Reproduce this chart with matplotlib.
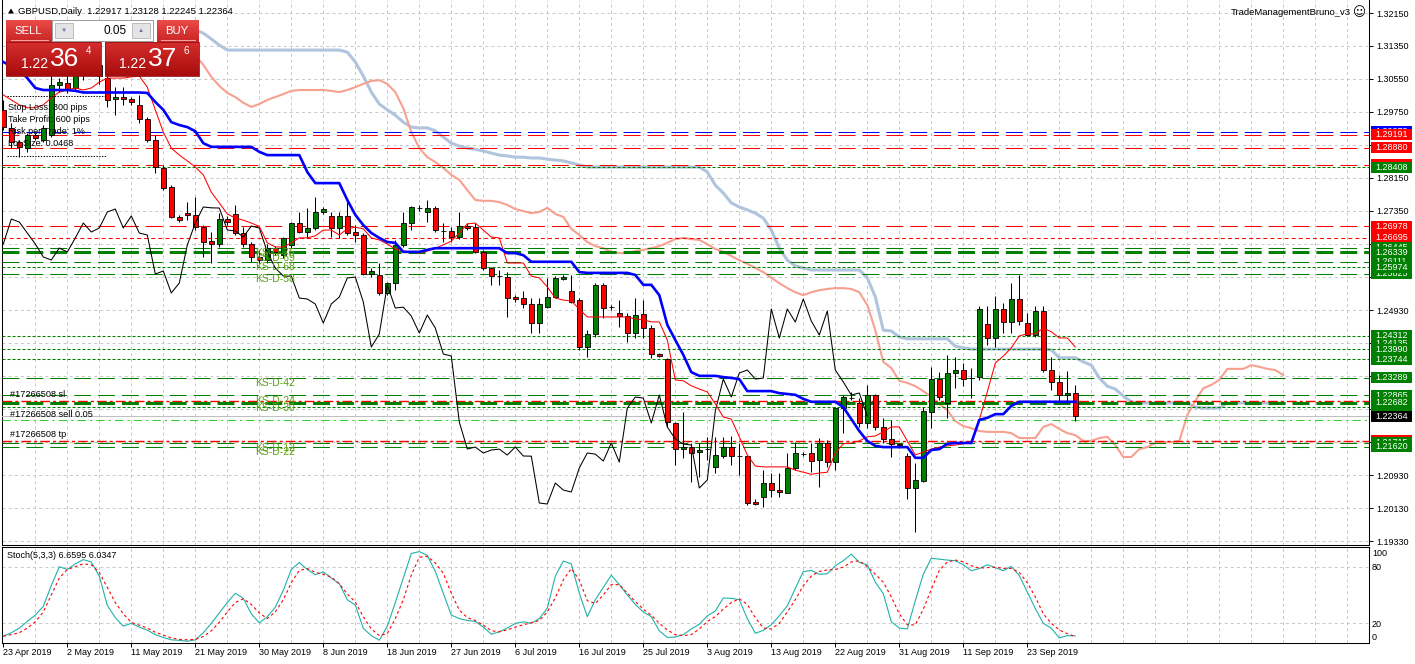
import numpy as np
import matplotlib
matplotlib.use("Agg")
import matplotlib.pyplot as plt
from matplotlib.patches import Rectangle, Polygon
from matplotlib.colors import to_rgb
import matplotlib.transforms as mtransforms

plt.rcParams['font.family'] = ['Liberation Sans', 'DejaVu Sans']
plt.rcParams['lines.scale_dashes'] = False
plt.rcParams['axes.linewidth'] = 0.75

# ------------------------------------------------------------------ data
title_text = "GBPUSD,Daily  1.22917 1.23128 1.22245 1.22364"
ea_name = "TradeManagementBruno_v3"
stoch_title = "Stoch(5,3,3) 6.6595 6.0347"

date_labels = ['23 Apr 2019', '2 May 2019', '11 May 2019', '21 May 2019', '30 May 2019',
               '8 Jun 2019', '18 Jun 2019', '27 Jun 2019', '6 Jul 2019', '16 Jul 2019',
               '25 Jul 2019', '3 Aug 2019', '13 Aug 2019', '22 Aug 2019', '31 Aug 2019',
               '11 Sep 2019', '23 Sep 2019']
date_label_bars = [0, 8, 16, 24, 32, 40, 48, 56, 64, 72, 80, 88, 96, 104, 112, 120, 128]

opens = [1.29795, 1.29358, 1.29018, 1.28872, 1.29188, 1.29066, 1.29188, 1.30402, 1.30450, 1.30329,
         1.30766, 1.30717, 1.30887, 1.30572, 1.30062, 1.30110, 1.30062, 1.29916, 1.29576, 1.29066,
         1.28387, 1.27925, 1.27197, 1.27294, 1.27245, 1.26954, 1.26614, 1.26541, 1.27148, 1.27270,
         1.26808, 1.26541, 1.26226, 1.26153, 1.26444, 1.26274, 1.26517, 1.27051, 1.26833, 1.26930,
         1.27318, 1.27221, 1.26930, 1.27221, 1.26833, 1.26760, 1.25813, 1.25789, 1.25352, 1.25594,
         1.26517, 1.27051, 1.27415, 1.27318, 1.27415, 1.26857, 1.26857, 1.26711, 1.26978, 1.26954,
         1.26347, 1.25959, 1.25764, 1.25740, 1.25254, 1.25230, 1.25085, 1.24623, 1.25012, 1.25254,
         1.25692, 1.25400, 1.25182, 1.24040, 1.24356, 1.25546, 1.25012, 1.24866, 1.24793, 1.24380,
         1.24842, 1.24502, 1.23870, 1.23749, 1.22195, 1.21564, 1.21612, 1.21491, 1.21564, 1.21127,
         1.21394, 1.21612, 1.21394, 1.21394, 1.20277, 1.20398, 1.20738, 1.20568, 1.20496, 1.21103,
         1.21442, 1.21467, 1.21297, 1.21710, 1.21248, 1.22559, 1.22802, 1.22681, 1.22195, 1.22875,
         1.22098, 1.21807, 1.21685, 1.21394, 1.20617, 1.20787, 1.22462, 1.23263, 1.22681, 1.23409,
         1.23482, 1.23288, 1.23312, 1.24599, 1.24259, 1.24963, 1.24647, 1.25206, 1.24623, 1.24332,
         1.24915, 1.23482, 1.23191, 1.22875, 1.22917]
highs = [1.30038, 1.29479, 1.29066, 1.29236, 1.29236, 1.29431, 1.30645, 1.30572, 1.30645, 1.30960,
         1.31009, 1.31009, 1.30960, 1.30645, 1.30353, 1.30353, 1.30110, 1.30159, 1.29625, 1.29188,
         1.28460, 1.27974, 1.27245, 1.27561, 1.27682, 1.27003, 1.26833, 1.27294, 1.27221, 1.27488,
         1.26954, 1.26590, 1.26396, 1.26541, 1.26493, 1.26711, 1.27075, 1.27318, 1.27415, 1.27682,
         1.27440, 1.27318, 1.27318, 1.27610, 1.27003, 1.26808, 1.25959, 1.26080, 1.25619, 1.26638,
         1.27318, 1.27464, 1.27488, 1.27610, 1.27464, 1.27051, 1.26954, 1.27318, 1.27051, 1.27051,
         1.26396, 1.25983, 1.25910, 1.25861, 1.25303, 1.25400, 1.25230, 1.25230, 1.25716, 1.25764,
         1.25789, 1.25789, 1.25230, 1.24453, 1.25594, 1.25594, 1.25060, 1.25182, 1.24866, 1.25230,
         1.25182, 1.24575, 1.23895, 1.23773, 1.22219, 1.22462, 1.21710, 1.21710, 1.21855, 1.21855,
         1.21855, 1.21880, 1.21710, 1.21418, 1.20350, 1.21054, 1.20981, 1.20981, 1.21467, 1.21734,
         1.21491, 1.21710, 1.21831, 1.21782, 1.22584, 1.22875, 1.22948, 1.22802, 1.23118, 1.22899,
         1.22317, 1.22268, 1.21710, 1.21467, 1.21224, 1.22584, 1.23555, 1.23433, 1.23846, 1.23798,
         1.23652, 1.23531, 1.25036, 1.25036, 1.25279, 1.25109, 1.25594, 1.25789, 1.24866, 1.25036,
         1.25036, 1.23798, 1.23361, 1.23458, 1.23128]
lows = [1.29309, 1.28872, 1.28654, 1.28775, 1.29066, 1.29018, 1.29139, 1.30232, 1.30208, 1.30280,
        1.30523, 1.30620, 1.30426, 1.29868, 1.29673, 1.29916, 1.29916, 1.29479, 1.29018, 1.28265,
        1.27852, 1.27173, 1.27075, 1.27124, 1.26881, 1.26226, 1.26080, 1.26468, 1.27003, 1.26760,
        1.26468, 1.26104, 1.26080, 1.26104, 1.26274, 1.26201, 1.26444, 1.26808, 1.26687, 1.26881,
        1.27270, 1.26711, 1.26687, 1.26760, 1.26590, 1.25789, 1.25740, 1.25303, 1.25303, 1.25425,
        1.26468, 1.26881, 1.27343, 1.27075, 1.26833, 1.26590, 1.26590, 1.26663, 1.26881, 1.26323,
        1.25910, 1.25546, 1.25546, 1.24769, 1.25133, 1.24987, 1.24380, 1.24380, 1.24987, 1.25230,
        1.25667, 1.25109, 1.23968, 1.23798, 1.24283, 1.24745, 1.24939, 1.24526, 1.24162, 1.24259,
        1.24259, 1.23773, 1.23798, 1.22098, 1.21175, 1.21345, 1.20763, 1.20884, 1.21297, 1.20981,
        1.21345, 1.21175, 1.20933, 1.20204, 1.20204, 1.20156, 1.20398, 1.20398, 1.20496, 1.21054,
        1.21394, 1.21005, 1.20641, 1.21127, 1.21054, 1.21952, 1.22754, 1.22098, 1.22074, 1.22025,
        1.21710, 1.21370, 1.21588, 1.20350, 1.19546, 1.20763, 1.22074, 1.22754, 1.22317, 1.23045,
        1.23093, 1.22802, 1.23239, 1.24090, 1.24040, 1.24380, 1.24380, 1.24575, 1.24308, 1.24283,
        1.23433, 1.22996, 1.22705, 1.22681, 1.22245]
closes = [1.29382, 1.29018, 1.28896, 1.29188, 1.29115, 1.29358, 1.30402, 1.30475, 1.30305, 1.30766,
          1.30717, 1.30887, 1.30620, 1.30038, 1.30110, 1.30062, 1.29989, 1.29576, 1.29066, 1.28411,
          1.27901, 1.27197, 1.27124, 1.27245, 1.26954, 1.26590, 1.26541, 1.27148, 1.27075, 1.26808,
          1.26541, 1.26226, 1.26153, 1.26444, 1.26347, 1.26687, 1.27051, 1.26833, 1.26930, 1.27318,
          1.27391, 1.26930, 1.27221, 1.26808, 1.26760, 1.25813, 1.25886, 1.25352, 1.25594, 1.26517,
          1.27051, 1.27440, 1.27420, 1.27415, 1.26881, 1.26860, 1.26711, 1.26978, 1.26930, 1.26347,
          1.25959, 1.25764, 1.25760, 1.25230, 1.25206, 1.25085, 1.24623, 1.25085, 1.25254, 1.25716,
          1.25740, 1.25133, 1.24040, 1.24356, 1.25546, 1.24987, 1.25008, 1.24793, 1.24380, 1.24817,
          1.24502, 1.23870, 1.23822, 1.22219, 1.21564, 1.21612, 1.21467, 1.21540, 1.21560, 1.21418,
          1.21612, 1.21394, 1.21390, 1.20253, 1.20228, 1.20738, 1.20568, 1.20520, 1.21103, 1.21467,
          1.21440, 1.21272, 1.21710, 1.21248, 1.22559, 1.22826, 1.22800, 1.22195, 1.22875, 1.22098,
          1.21807, 1.21685, 1.21661, 1.20617, 1.20812, 1.22487, 1.23263, 1.22826, 1.23409, 1.23482,
          1.23263, 1.23285, 1.24963, 1.24259, 1.24963, 1.24647, 1.25206, 1.24672, 1.24332, 1.24915,
          1.23482, 1.23191, 1.22875, 1.22924, 1.22364]

tenkan = [1.3016, 1.3004, 1.2992, 1.2985, 1.2985, 1.2992, 1.3009, 1.3023, 1.3028, 1.3033,
          1.3028, 1.3033, 1.3047, 1.3057, 1.3057, 1.3057, 1.3060, 1.3062, 1.3035, 1.2980,
          1.2926, 1.2887, 1.2870, 1.2856, 1.2841, 1.2822, 1.2780, 1.2754, 1.2727, 1.2717,
          1.2712, 1.2705, 1.2697, 1.2657, 1.2647, 1.2647, 1.2657, 1.2669, 1.2669, 1.2674,
          1.2688, 1.2688, 1.2676, 1.2691, 1.2695, 1.2691, 1.2669, 1.2664, 1.2654, 1.2642,
          1.2637, 1.2635, 1.2632, 1.2637, 1.2644, 1.2652, 1.2661, 1.2681, 1.2703, 1.2705,
          1.2688, 1.2671, 1.2669, 1.2608, 1.2608, 1.2608, 1.2576, 1.2572, 1.2550, 1.2523,
          1.2518, 1.2516, 1.2496, 1.2477, 1.2477, 1.2477, 1.2477, 1.2477, 1.2477, 1.2472,
          1.2470, 1.2465, 1.2465, 1.2421, 1.2324, 1.2322, 1.2310, 1.2302, 1.2295, 1.2266,
          1.2234, 1.2229, 1.2186, 1.2142, 1.2115, 1.2113, 1.2113, 1.2113, 1.2113, 1.2105,
          1.2100, 1.2095, 1.2098, 1.2100, 1.2147, 1.2169, 1.2171, 1.2176, 1.2186, 1.2188,
          1.2198, 1.2210, 1.2210, 1.2176, 1.2142, 1.2149, 1.2156, 1.2161, 1.2164, 1.2166,
          1.2169, 1.2173, 1.2227, 1.2295, 1.2365, 1.2382, 1.2402, 1.2431, 1.2436, 1.2436,
          1.2450, 1.2441, 1.2426, 1.2426, 1.2404]
kijun = [1.3096, 1.3086, 1.3077, 1.3057, 1.3033, 1.3028, 1.3028, 1.3028, 1.3028, 1.3026,
         1.3022, 1.3022, 1.3022, 1.3022, 1.3022, 1.3022, 1.3022, 1.3022, 1.3021, 1.2999,
         1.2980, 1.2950, 1.2943, 1.2938, 1.2928, 1.2899, 1.2890, 1.2890, 1.2890, 1.2890,
         1.2890, 1.2890, 1.2878, 1.2870, 1.2870, 1.2870, 1.2870, 1.2870, 1.2829, 1.2802,
         1.2802, 1.2802, 1.2802, 1.2761, 1.2725, 1.2700, 1.2681, 1.2669, 1.2659, 1.2657,
         1.2635, 1.2635, 1.2635, 1.2640, 1.2644, 1.2644, 1.2644, 1.2644, 1.2644, 1.2644,
         1.2644, 1.2644, 1.2644, 1.2632, 1.2632, 1.2627, 1.2611, 1.2611, 1.2611, 1.2611,
         1.2611, 1.2611, 1.2586, 1.2584, 1.2584, 1.2584, 1.2584, 1.2584, 1.2584, 1.2579,
         1.2555, 1.2555, 1.2530, 1.2458, 1.2421, 1.2385, 1.2343, 1.2334, 1.2334, 1.2334,
         1.2331, 1.2329, 1.2326, 1.2297, 1.2297, 1.2297, 1.2297, 1.2292, 1.2290, 1.2288,
         1.2278, 1.2271, 1.2271, 1.2271, 1.2271, 1.2258, 1.2229, 1.2200, 1.2176, 1.2164,
         1.2161, 1.2161, 1.2161, 1.2161, 1.2135, 1.2135, 1.2154, 1.2156, 1.2169, 1.2171,
         1.2171, 1.2171, 1.2227, 1.2232, 1.2241, 1.2241, 1.2261, 1.2271, 1.2271, 1.2271,
         1.2271, 1.2271, 1.2271, 1.2271, 1.2271]

senkou_first_bar = 24
senkou_a = [1.3113, 1.3089, 1.3060, 1.3038, 1.3021, 1.3011, 1.2997, 1.2987, 1.2994, 1.3004,
            1.3011, 1.3018, 1.3026, 1.3028, 1.3028, 1.3028, 1.3028, 1.3026, 1.3023, 1.3028,
            1.3035, 1.3043, 1.3050, 1.3052, 1.3043, 1.3023, 1.2984, 1.2926, 1.2887, 1.2865,
            1.2853, 1.2839, 1.2822, 1.2810, 1.2785, 1.2761, 1.2759, 1.2759, 1.2756, 1.2749,
            1.2739, 1.2734, 1.2729, 1.2732, 1.2742, 1.2727, 1.2720, 1.2691, 1.2676, 1.2659,
            1.2649, 1.2644, 1.2635, 1.2632, 1.2632, 1.2637, 1.2640, 1.2644, 1.2649, 1.2657,
            1.2666, 1.2669, 1.2666, 1.2664, 1.2654, 1.2642, 1.2635, 1.2625, 1.2615, 1.2606,
            1.2596, 1.2586, 1.2572, 1.2559, 1.2547, 1.2537, 1.2530, 1.2537, 1.2542, 1.2545,
            1.2547, 1.2547, 1.2545, 1.2537, 1.2506, 1.2445, 1.2368, 1.2353, 1.2322, 1.2317,
            1.2309, 1.2297, 1.2283, 1.2266, 1.2251, 1.2224, 1.2212, 1.2207, 1.2200, 1.2198,
            1.2198, 1.2198, 1.2195, 1.2183, 1.2183, 1.2183, 1.2210, 1.2217, 1.2205, 1.2195,
            1.2190, 1.2176, 1.2176, 1.2183, 1.2186, 1.2166, 1.2137, 1.2137, 1.2156, 1.2161,
            1.2171, 1.2173, 1.2173, 1.2176, 1.2239, 1.2273, 1.2304, 1.2312, 1.2324, 1.2351,
            1.2351, 1.2351, 1.2360, 1.2356, 1.2351, 1.2348, 1.2336]
senkou_b = [1.3174, 1.3166, 1.3152, 1.3137, 1.3125, 1.3125, 1.3125, 1.3125, 1.3125, 1.3125,
            1.3125, 1.3125, 1.3125, 1.3125, 1.3125, 1.3125, 1.3125, 1.3125, 1.3125, 1.3120,
            1.3096, 1.3062, 1.3023, 1.2994, 1.2980, 1.2967, 1.2950, 1.2938, 1.2936, 1.2936,
            1.2929, 1.2914, 1.2899, 1.2892, 1.2887, 1.2884, 1.2880, 1.2875, 1.2870, 1.2868,
            1.2865, 1.2865, 1.2863, 1.2863, 1.2860, 1.2858, 1.2856, 1.2851, 1.2846, 1.2841,
            1.2841, 1.2841, 1.2841, 1.2841, 1.2841, 1.2841, 1.2841, 1.2841, 1.2841, 1.2841,
            1.2841, 1.2841, 1.2841, 1.2841, 1.2829, 1.2797, 1.2778, 1.2754, 1.2744, 1.2737,
            1.2729, 1.2717, 1.2688, 1.2644, 1.2615, 1.2601, 1.2596, 1.2591, 1.2591, 1.2591,
            1.2591, 1.2591, 1.2591, 1.2591, 1.2572, 1.2526, 1.2445, 1.2443, 1.2428, 1.2424,
            1.2424, 1.2424, 1.2424, 1.2424, 1.2424, 1.2406, 1.2402, 1.2399, 1.2399, 1.2399,
            1.2399, 1.2399, 1.2399, 1.2399, 1.2399, 1.2399, 1.2399, 1.2397, 1.2378, 1.2378,
            1.2378, 1.2368, 1.2360, 1.2329, 1.2309, 1.2302, 1.2285, 1.2271, 1.2268, 1.2268,
            1.2268, 1.2268, 1.2268, 1.2268, 1.2268, 1.2258, 1.2256, 1.2256, 1.2256, 1.2268,
            1.2268, 1.2268, 1.2268, 1.2268, 1.2268, 1.2268, 1.2268]
chikou_shift = 26

stoch_k = [6.4, 10, 15, 22, 28.7, 38, 60, 80, 77, 83,
           87.5, 85, 70, 39, 26, 17, 20, 16, 12.8, 8,
           5, 2.5, 2, 1, 2.5, 10, 20, 31, 42, 51.8,
           46.5, 30, 20.5, 27, 37, 55, 77, 84.4, 77, 71.5,
           74.5, 68, 62, 45, 39.4, 14.6, 7, 2.1, 17, 42,
           68, 94, 96, 92, 75, 52, 28.7, 25, 23, 22,
           16, 8.5, 11, 15, 19.9, 21.5, 20, 25, 36, 70,
           86, 83, 52, 27, 45, 58, 71, 61, 50, 40,
           32, 27, 12, 5, 5.5, 8, 14, 19, 28, 33,
           46.8, 46.5, 45, 25, 9.5, 12.5, 18.5, 28, 38.5, 57,
           74.8, 76, 72, 72.5, 81, 86.3, 93.3, 84.5, 82, 63.6,
           51.4, 21.7, 15, 14, 44, 72, 89, 88, 87, 86.3,
           82, 75.8, 78, 82, 79, 75.8, 80.3, 70.6, 53.1, 35.7,
           20, 14.8, 4.5, 7, 6.6595]
stoch_d = [6.4, 8, 10, 15, 21.6, 32, 50, 68, 77, 80,
           83, 82, 74, 58, 42, 30, 21, 18, 15, 10.5,
           7.5, 4.5, 3, 2.5, 3, 6, 12, 21, 32, 42,
           46, 40, 31, 25, 32, 45, 63, 76, 78, 74,
           72, 69, 62, 51, 42.6, 27, 14, 7, 9, 25,
           45, 71, 90, 91, 84, 73, 52, 34, 26, 23,
           18, 12.2, 11, 13, 16, 18.5, 20.6, 23, 32, 47,
           66, 78, 66, 44, 41, 50, 61, 61, 52, 43,
           35, 28.5, 20, 13, 8, 7, 8, 14, 22, 27,
           35, 42, 46, 40, 26, 15, 14, 20, 32, 45,
           60, 70, 75, 76.5, 77, 79.5, 85, 86.3, 80, 72,
           63.6, 48, 30, 18.5, 18.2, 35, 56, 76, 85, 87,
           85.2, 81, 78.5, 79, 79.5, 78.2, 78.2, 74, 63, 48,
           30, 20, 13, 9, 6.0347]

price_ticks = [1.32150, 1.31350, 1.30550, 1.29750, 1.28950, 1.28150, 1.27350, 1.26550, 1.25750,
               1.24930, 1.24130, 1.23330, 1.22530, 1.21730, 1.20930, 1.20130, 1.19330]

blue_dash_levels = [1.29273]
red_dash_levels = [1.29191, 1.28880, 1.28460, 1.26978]
red_fine_dash_levels = [1.26695]
red_dashdot_levels = [1.22730, 1.21759]
green_dash_levels = [1.26445, 1.26111, 1.25825, 1.23289, 1.22865, 1.21715, 1.21620]
green_thick_levels = [1.26339, 1.22682]
green_dot_levels = [1.28408, 1.25974, 1.24312, 1.23990, 1.23744, 1.22577]
lime_dashdot_levels = [1.22268]
bid_price = 1.22364

scale_label_prices = [1.29273, 1.29191, 1.28880, 1.28460, 1.28408, 1.26978, 1.26695,
                      1.26445, 1.25825, 1.26111, 1.26339, 1.25974,
                      1.24312, 1.24135, 1.23990, 1.23744, 1.23289,
                      1.22730, 1.22865, 1.22577, 1.22682, 1.22364,
                      1.21759, 1.21715, 1.21620]
scale_label_kinds = ['blue', 'red', 'red', 'red', 'green', 'red', 'red',
                     'green', 'green', 'green', 'green', 'green',
                     'green', 'green', 'green', 'green', 'green',
                     'red', 'green', 'green', 'green', 'bid',
                     'red', 'green', 'green']

ks_labels = ['KS-D-75', 'KS-D-69', 'KS-D-68', 'KS-D-58', 'KS-D-42',
             'KS-D-24', 'KS-D-30', 'KS-D-12', 'KS-D-22']
ks_prices = [1.26445, 1.26339, 1.26111, 1.25825, 1.23289,
             1.22865, 1.22682, 1.21715, 1.21620]
ks_label_bar = 31.45

order_labels = ['#17266508 sl', '#17266508 sell 0.05', '#17266508 tp']
order_prices = [1.22730, 1.22268, 1.21759]
order_label_bar = 0.85

info_lines = ['Stop Loss: 300 pips', 'Take Profit: 600 pips', 'Risk per Trade: 1%', 'Lot Size: 0.0468']
lot_text = "0.05"
sell_quote = ("1.22", "36", "4")
buy_quote = ("1.22", "37", "6")

# ------------------------------------------------------------------ layout
FW, FH = 1415.0, 664.0
fig = plt.figure(figsize=(FW / 100, FH / 100), dpi=100)
fig.patch.set_facecolor('white')

LEFT_PX, RIGHT_PX = 2, 1369
MAIN_TOP, MAIN_BOT = 0, 545
STO_TOP, STO_BOT = 547, 643
BAR0_PX, BAR_PX = 3.3, 8.0

def fx(p):
    return p / FW

def fbot(p):
    return 1 - p / FH

xlim = ((LEFT_PX - BAR0_PX) / BAR_PX, (RIGHT_PX - BAR0_PX) / BAR_PX)
main_ylim = (1.19233, 1.32466)
sto_ylim = (-0.85, 100.85)

ax = fig.add_axes([fx(LEFT_PX), fbot(MAIN_BOT), fx(RIGHT_PX - LEFT_PX), (MAIN_BOT - MAIN_TOP) / FH])
ax2 = fig.add_axes([fx(LEFT_PX), fbot(STO_BOT), fx(RIGHT_PX - LEFT_PX), (STO_BOT - STO_TOP) / FH])
axl = fig.add_axes([fx(RIGHT_PX), fbot(MAIN_BOT), fx(FW - RIGHT_PX), (MAIN_BOT - MAIN_TOP) / FH])
axo = fig.add_axes([0, 0, 1, 1])

GRID_C = '#c8c8c8'
GRID_LS = (0, (2.2, 2.2))
FS = 6.5
ppx = (main_ylim[1] - main_ylim[0]) / (MAIN_BOT - MAIN_TOP)

# ------------------------------------------------------------------ main panel
ax.set_xlim(*xlim)
ax.set_ylim(*main_ylim)
for k in range(4, int(xlim[1]) + 1, 4):
    ax.axvline(k, color=GRID_C, lw=0.7, ls=GRID_LS, zorder=0.5)
    ax2.axvline(k, color=GRID_C, lw=0.7, ls=GRID_LS, zorder=0.5)
for t in price_ticks:
    ax.axhline(t, color=GRID_C, lw=0.7, ls=GRID_LS, zorder=0.5)

LONG = (0, (12.2, 5.0))
DOT = (0, (2.2, 1.4))
FINE = (0, (2.9, 2.2))
DASHDOT = (0, (7.0, 2.2, 2.2, 2.2))
for p in blue_dash_levels:
    ax.axhline(p, color='#0000ff', lw=0.75, ls=LONG, zorder=3)
for p in red_dash_levels:
    ax.axhline(p, color='#ff0000', lw=0.75, ls=LONG, zorder=3)
for p in red_fine_dash_levels:
    ax.axhline(p, color='#ff0000', lw=0.75, ls=FINE, zorder=3)
for p in red_dashdot_levels:
    ax.axhline(p, color='#ff0000', lw=1.0, ls=DASHDOT, zorder=3)
for p in green_dash_levels:
    ax.axhline(p, color='#008000', lw=0.75, ls=LONG, zorder=3)
for p in green_thick_levels:
    ax.axhline(p, color='#008000', lw=2.2, ls=LONG, zorder=3)
for p in green_dot_levels:
    ax.axhline(p, color='#008000', lw=0.75, ls=DOT, zorder=3)
for p in lime_dashdot_levels:
    ax.axhline(p, color='#33cc33', lw=0.75, ls=(0, (6.0, 3.0, 1.5, 3.0)), zorder=3)
ax.axhline(bid_price, color='#c0c0c0', lw=0.75, zorder=3)

# Ichimoku spans (shifted forward)
sx = np.arange(senkou_first_bar, senkou_first_bar + len(senkou_b))
ax.plot(sx, senkou_b, color='#b0c4de', lw=2.2, zorder=2, solid_joinstyle='round')
sa_x = np.arange(senkou_first_bar, senkou_first_bar + len(senkou_a))
ax.plot(sa_x, senkou_a, color='#f8a090', lw=1.5, zorder=2.2, solid_joinstyle='round')

# candles
o = np.array(opens); h = np.array(highs); l = np.array(lows); c = np.array(closes)
idx = np.arange(len(o))
bull = c >= o
ax.vlines(idx, l, h, color='black', lw=0.75, zorder=4)
bottoms = np.minimum(o, c)
heights = np.maximum(np.abs(c - o), ppx * 0.3)
ax.bar(idx, heights, bottom=bottoms, width=0.62,
       color=np.where(bull, '#008000', '#ff0000'), edgecolor='black', linewidth=0.6, zorder=4.5)

# chikou (close shifted back), tenkan, kijun
cx = np.arange(len(c) - chikou_shift)
ax.plot(cx, c[chikou_shift:], color='black', lw=0.75, zorder=5)
ax.plot(idx, tenkan, color='#ff0000', lw=0.75, zorder=5.2)
ax.plot(idx, kijun, color='#0000ff', lw=1.9, zorder=5.4, solid_joinstyle='round')

# object texts
for t, p in zip(ks_labels, ks_prices):
    ax.text(ks_label_bar, p - ppx * 0.5, t, color='#5aa012', fontsize=7.5, va='top', ha='left', zorder=6)
for t, p in zip(order_labels, order_prices):
    ax.text(order_label_bar, p + ppx * 1.5, t, color='black', fontsize=6.6, va='bottom', ha='left', zorder=6)

# price scale: tick labels that sit under an object label box are not shown
hh = 5.5 * ppx
tick_text = []
for t in price_ticks:
    hidden = any(abs(t - q) < hh + 4 * ppx for q in scale_label_prices)
    tick_text.append('' if hidden else f"{t:.5f}")
ax.yaxis.tick_right()
ax.set_yticks(price_ticks)
ax.set_yticklabels(tick_text)
ax.tick_params(axis='y', direction='out', length=2.6, width=0.7, pad=2.5, labelsize=FS, colors='black')
ax.set_xticks([])
ax.spines['top'].set_visible(False)
for s in ('left', 'right', 'bottom'):
    ax.spines[s].set_color('black')

# ------------------------------------------------------------------ price-scale labels
axl.set_xlim(0, FW - RIGHT_PX)
axl.set_ylim(*main_ylim)
axl.axis('off')
box_colors = {'blue': '#0000ff', 'red': '#ff0000', 'green': '#008000', 'bid': '#000000'}
for i, (p, kind) in enumerate(zip(scale_label_prices, scale_label_kinds)):
    z = 3 + 2 * i
    axl.add_patch(Rectangle((2, p - hh), 41, 2 * hh, facecolor=box_colors[kind], edgecolor='none', zorder=z))
    ys = np.linspace(p - hh, p + hh, 23)
    covered = np.zeros_like(ys, dtype=bool)
    for q in scale_label_prices[i + 1:]:
        covered |= np.abs(ys - q) <= hh
    vis = ys[~covered]
    if len(vis) * (2 * hh / 22) / ppx < 3.5:
        continue
    txt = axl.text(6.5, p, f"{p:.5f}", color='white', fontsize=FS, va='center', ha='left', zorder=z + 1)
    clip = Rectangle((2, vis.min() - ppx * 0.3), 41, vis.max() - vis.min() + ppx * 0.6,
                     transform=axl.transData, facecolor='none', edgecolor='none')
    txt.set_clip_path(clip)

# ------------------------------------------------------------------ stochastic panel
ax2.set_xlim(*xlim)
ax2.set_ylim(*sto_ylim)
for v in (20, 80):
    ax2.axhline(v, color=GRID_C, lw=0.7, ls=GRID_LS, zorder=0.5)
ax2.plot(idx, stoch_k, color='#20b2aa', lw=0.8, zorder=3)
ax2.plot(idx, stoch_d, color='#ff0000', lw=0.8, ls=(0, (2.0, 2.0)), zorder=3.2)
ax2.yaxis.tick_right()
ax2.set_yticks([20, 80])
ax2.set_yticklabels(['20', '80'])
ax2.tick_params(axis='y', length=0, pad=2.2, labelsize=FS)
blend2 = mtransforms.blended_transform_factory(ax2.transAxes, ax2.transData)
ax2.text(1 + 3.5 / (RIGHT_PX - LEFT_PX), 94.2, '100', transform=blend2, fontsize=FS, va='center', ha='left')
ax2.text(1 + 3.0 / (RIGHT_PX - LEFT_PX), 5.5, '0', transform=blend2, fontsize=FS, va='center', ha='left')
ax2.set_xticks(date_label_bars)
ax2.set_xticklabels(date_labels, ha='left')
ax2.tick_params(axis='x', direction='out', length=2.6, width=0.7, pad=1.2, labelsize=FS)
for s in ax2.spines.values():
    s.set_color('black')

# ------------------------------------------------------------------ overlay (pixel coordinates)
axo.set_xlim(0, FW)
axo.set_ylim(FH, 0)
axo.axis('off')
axo.patch.set_alpha(0)

def grad_rect(x, y, w, hgt, c1, c2, n=16, z=10):
    a = np.array(to_rgb(c1)); b = np.array(to_rgb(c2))
    for i in range(n):
        t = i / (n - 1)
        axo.add_patch(Rectangle((x, y + hgt * i / n), w, hgt / n + 0.4,
                                facecolor=a * (1 - t) + b * t, edgecolor='none', zorder=z))

# title
axo.add_patch(Polygon([(8, 13.5), (14, 13.5), (11, 8.5)], closed=True, facecolor='black', edgecolor='none', zorder=12))
axo.text(18, 11, title_text, fontsize=6.8, va='center', ha='left', color='black', zorder=12)
axo.text(1351, 12.5, ea_name, fontsize=6.8, va='center', ha='right', color='black', zorder=12)
axo.text(1359, 12.5, '\u263a', fontsize=9, va='center', ha='center', color='black', zorder=12,
         family=['DejaVu Sans'])

# sell / buy panel
grad_rect(6, 20, 46, 22, '#ea4a48', '#c82424')
grad_rect(157, 20, 42, 22, '#ea4a48', '#c82424')
axo.plot([11, 48], [39.5, 39.5], color='#f3a0a0', lw=0.8, zorder=11)
axo.plot([161, 195], [39.5, 39.5], color='#f3a0a0', lw=0.8, zorder=11)
axo.text(28.5, 30.5, 'SELL', color='white', fontsize=8.2, va='center', ha='center', zorder=12)
axo.text(176.5, 30.5, 'BUY', color='white', fontsize=8.2, va='center', ha='center', zorder=12)
axo.add_patch(Rectangle((52, 20), 101, 21, facecolor='white', edgecolor='#9a9a9a', lw=0.7, zorder=10))
for bx in (55, 132):
    axo.add_patch(Rectangle((bx, 23), 18, 15, facecolor='#e4e4e4', edgecolor='#b4b4b4', lw=0.6, zorder=11))
axo.text(64, 30.5, '\u25bc', fontsize=4.5, color='#6a7aa0', va='center', ha='center', zorder=12)
axo.text(141, 30.5, '\u25b2', fontsize=4.5, color='#6a7aa0', va='center', ha='center', zorder=12)
axo.text(127, 30.5, lot_text, fontsize=8.5, color='black', va='center', ha='right', zorder=12)

grad_rect(6, 42, 95, 34, '#d42c2c', '#a80c0c')
grad_rect(105, 42, 94, 34, '#d42c2c', '#a80c0c')
axo.add_patch(Rectangle((6, 42), 95, 34, facecolor='none', edgecolor='#9a1010', lw=0.6, zorder=11))
axo.add_patch(Rectangle((105, 42), 94, 34, facecolor='none', edgecolor='#9a1010', lw=0.6, zorder=11))
for (small, big, sup), x0 in ((sell_quote, 20.5), (buy_quote, 119)):
    axo.text(x0, 64.5, small, color='white', fontsize=10, va='center', ha='left', zorder=12)
    axo.text(x0 + 29, 58.5, big, color='white', fontsize=19, va='center', ha='left', zorder=12)
    axo.text(x0 + 65, 51.5, sup, color='white', fontsize=7, va='center', ha='left', zorder=12)

# info block
for i, line in enumerate(info_lines):
    axo.text(7.5, 107.7 + 11.9 * i, line, fontsize=FS, color='black', va='center', ha='left', zorder=12)
axo.plot([7, 106], [96, 96], color='black', lw=0.7, ls=(0, (1, 1)), zorder=12)
axo.plot([7, 106], [156, 156], color='black', lw=0.7, ls=(0, (1, 1)), zorder=12)

axo.text(7, 556, stoch_title, fontsize=FS, color='black', va='center', ha='left', zorder=12)

fig.savefig('out.png', dpi=100, facecolor='white')
